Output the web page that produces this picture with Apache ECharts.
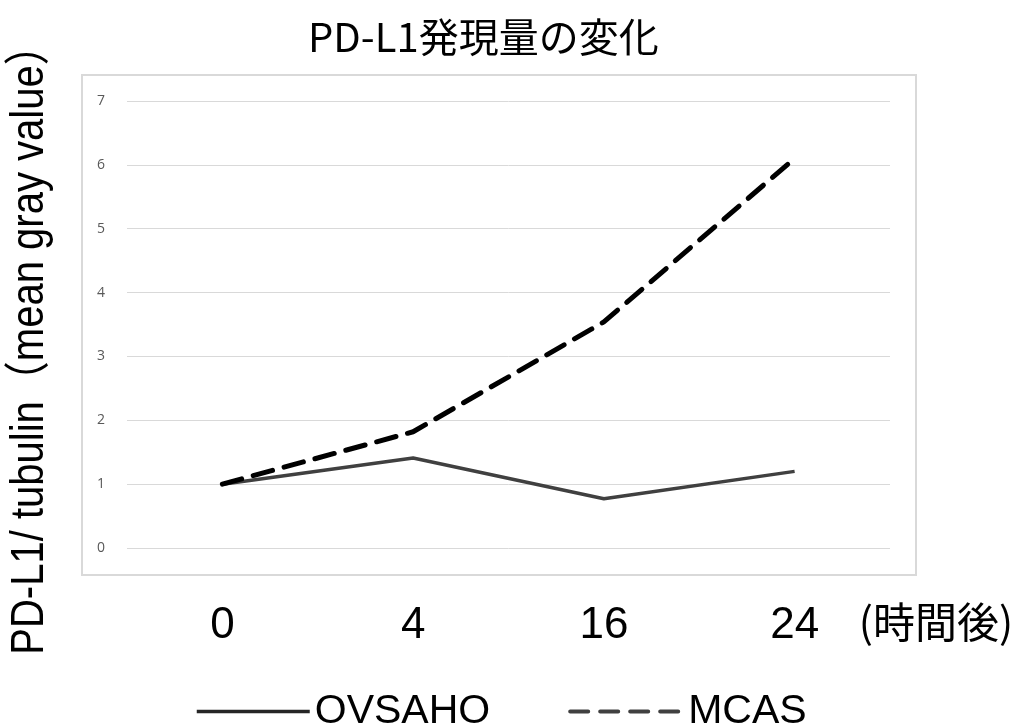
<!DOCTYPE html>
<html>
<head>
<meta charset="utf-8">
<script src="https://cdn.jsdelivr.net/npm/echarts@6/dist/echarts.min.js"></script>
<style>html,body{margin:0;padding:0;background:#fff}#c{width:1020px;height:728px}</style>
</head>
<body>
<div id="c"></div>
<script>
var categories = ['0', '4', '16', '24'];
var ovsaho = [1.0, 1.41, 0.77, 1.2];
var mcas = [1.0, 1.82, 3.54, 6.1];
var yTicks = [0, 1, 2, 3, 4, 5, 6, 7];
var titleText = 'PD-L1発現量の変化';
var yTitle = 'PD-L1/ tubulin（mean gray value）';
var xUnit = '(時間後)';

var sans = "'Liberation Sans', Arial, sans-serif";
var chart = echarts.init(document.getElementById('c'), null, {renderer: 'canvas'});
chart.setOption({
  animation: false,
  backgroundColor: '#fff',
  title: {
    text: titleText, left: 303, top: 12,
    textStyle: {fontFamily: "'Noto Sans CJK JP', sans-serif", fontSize: 40, fontWeight: 'normal', color: '#000'}
  },
  grid: {left: 127, right: 130, top: 101, bottom: 180},
  xAxis: {
    type: 'category', data: categories, boundaryGap: true,
    axisLine: {show: false}, axisTick: {show: false},
    axisLabel: {fontFamily: sans, fontSize: 44, color: '#000', margin: 56}
  },
  yAxis: {
    type: 'value', min: yTicks[0], max: yTicks[yTicks.length - 1], interval: 1,
    axisLine: {show: false}, axisTick: {show: false},
    axisLabel: {fontFamily: "'Open Sans', 'Liberation Sans', sans-serif", fontSize: 14, color: '#595959', margin: 22},
    splitLine: {lineStyle: {color: '#d9d9d9', width: 1}}
  },
  legend: {
    left: 190, top: 686, itemWidth: 113, itemHeight: 14, itemGap: 78,
    itemStyle: {opacity: 0},
    textStyle: {fontFamily: sans, fontSize: 41, color: '#000'},
    data: [
      {name: 'OVSAHO', lineStyle: {width: 3.5, color: '#262626'}},
      {name: 'MCAS', lineStyle: {width: 4, color: '#404040', type: [18, 12]}}
    ]
  },
  series: [
    {name: 'OVSAHO', type: 'line', data: ovsaho, symbol: 'none',
     lineStyle: {color: '#404040', width: 3.5}, itemStyle: {color: '#404040'}},
    {name: 'MCAS', type: 'line', data: mcas, symbol: 'none',
     lineStyle: {color: '#000', width: 5, type: [20, 12], cap: 'round'}, itemStyle: {color: '#000'}}
  ],
  graphic: [
    {type: 'rect', z: -1, shape: {x: 82, y: 75, width: 834, height: 500},
     style: {fill: 'none', stroke: '#d9d9d9', lineWidth: 2}},
    {type: 'text', x: 30, y: 340, rotation: Math.PI / 2, scaleX: 0.87,
     style: {text: yTitle, font: "46px 'Liberation Sans', 'Noto Sans CJK JP', sans-serif",
             fill: '#000', align: 'center', verticalAlign: 'middle'}},
    {type: 'text', x: 936, y: 622,
     style: {text: xUnit, font: "42px 'Noto Sans CJK JP', sans-serif",
             fill: '#000', align: 'center', verticalAlign: 'middle'}}
  ]
});
</script>
</body>
</html>
